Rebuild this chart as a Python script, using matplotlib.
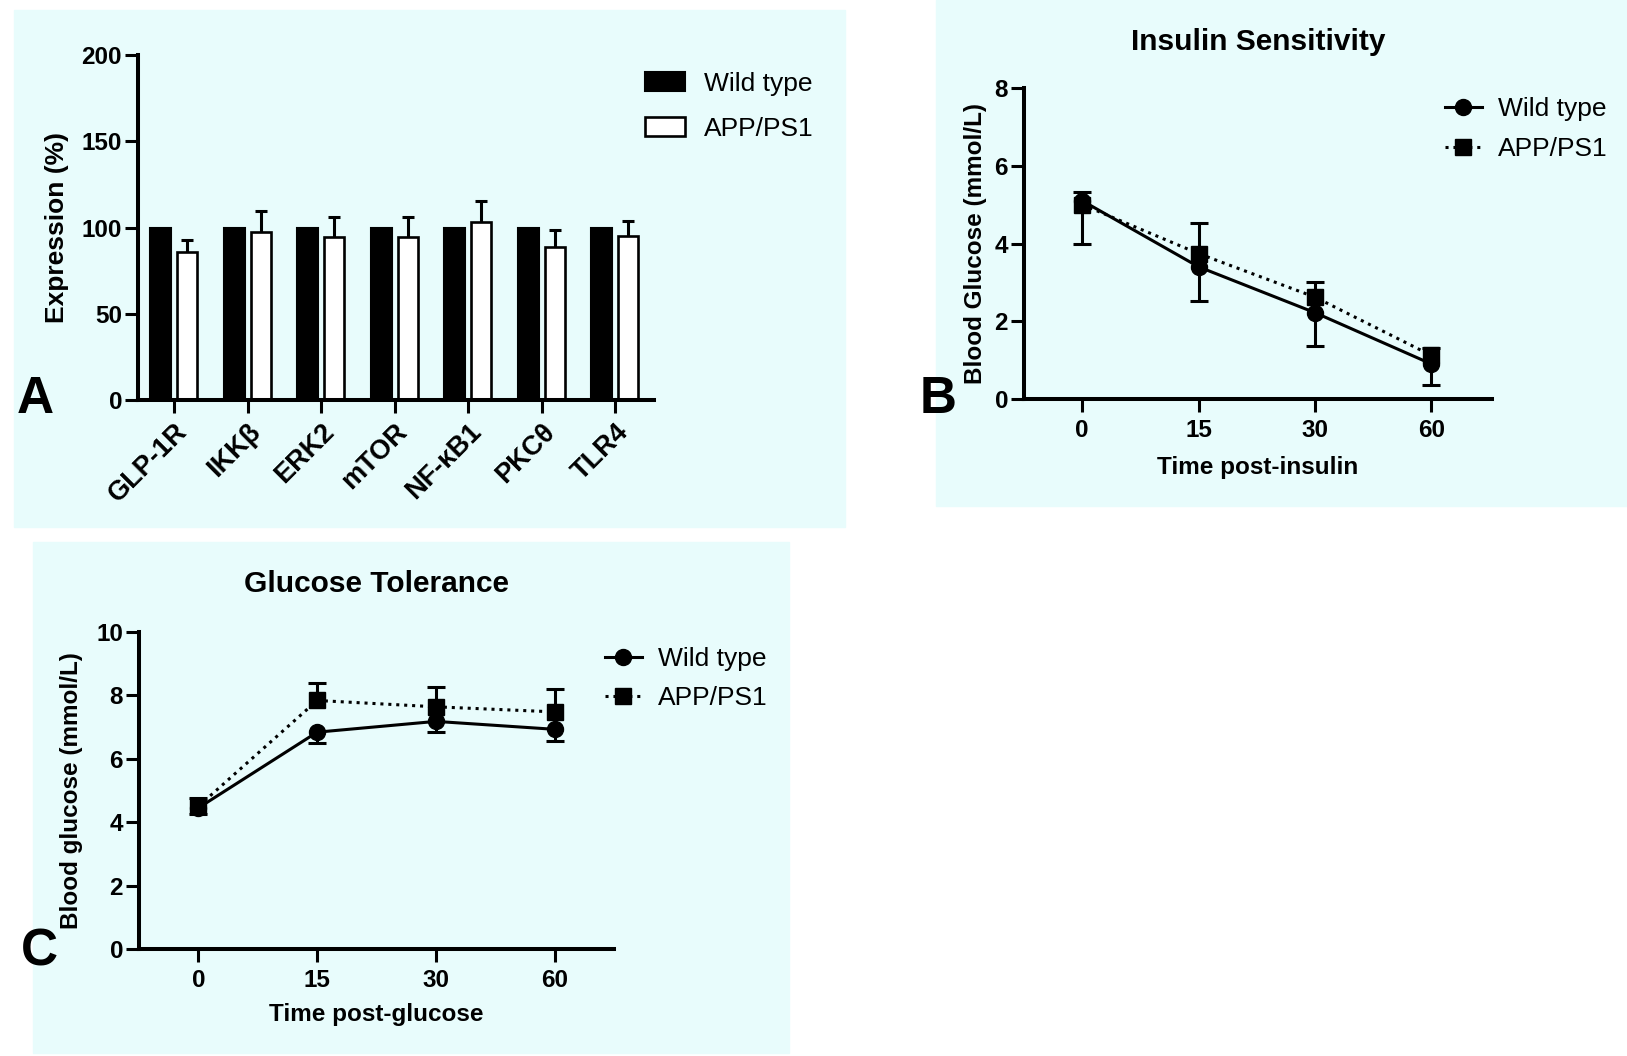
import numpy as np
import matplotlib
matplotlib.use('Agg')
import matplotlib.pyplot as plt
import matplotlib.transforms as mtransforms
from matplotlib.patches import Rectangle

plt.rcParams['font.family'] = ['Liberation Sans', 'DejaVu Sans']
plt.rcParams['font.weight'] = 'bold'
plt.rcParams['axes.labelweight'] = 'bold'
plt.rcParams['axes.titleweight'] = 'bold'

# --- data ---
genes = ['GLP-1R', 'IKKβ', 'ERK2', 'mTOR', 'NF-κB1', 'PKCθ', 'TLR4']
wt_expr = [100, 100, 100, 100, 100, 100, 100]
app_expr = [86, 97.6, 94.8, 94.8, 103, 89, 95]
app_expr_err = [7, 12, 11.6, 11.6, 12.6, 9.8, 9]

time_labels = ['0', '15', '30', '60']

wt_ins = [5.1, 3.4, 2.22, 0.9]
wt_ins_err = [1.12, 0.88, 0.86, 0.53]
app_ins = [5.0, 3.74, 2.62, 1.12]
app_ins_err = [0.33, 0.79, 0.38, 0.2]

wt_glu = [4.45, 6.84, 7.18, 6.93]
wt_glu_err = [0.2, 0.35, 0.35, 0.37]
app_glu = [4.5, 7.84, 7.64, 7.48]
app_glu_err = [0.27, 0.55, 0.63, 0.73]

W, H = 1627, 1056
BG = '#e8fcfc'
fig = plt.figure(figsize=(W / 100, H / 100), dpi=100)


def px_axes(l, t, r, b):
    ax = fig.add_axes([l / W, 1 - b / H, (r - l) / W, (b - t) / H])
    ax.set_facecolor('none')
    return ax


def bg(l, t, r, b):
    fig.patches.append(Rectangle((l / W, 1 - b / H), (r - l) / W, (b - t) / H,
                                 transform=fig.transFigure, color=BG, zorder=-10))


def style(ax):
    for s in ['top', 'right']:
        ax.spines[s].set_visible(False)
    for s in ['left', 'bottom']:
        ax.spines[s].set_linewidth(2.9)
    ax.tick_params(width=2.2, length=9.5, labelsize=17.5, pad=2)


def err_one_side(ax, x, y, e, down, cap=9):
    x = np.asarray(x, float)
    y = np.asarray(y, float)
    e = np.asarray(e, float)
    end = y - e if down else y + e
    ax.vlines(x, y, end, color='black', lw=2.2, zorder=1)
    ax.plot(x, end, linestyle='none', marker='_', markersize=cap * 2 * 0.72,
            mew=2.2, color='black', zorder=1)


def legend(ax, x, y, **kw):
    opts = dict(loc='upper left', bbox_to_anchor=(x / W, 1 - y / H),
                bbox_transform=fig.transFigure, frameon=False, borderpad=0,
                borderaxespad=0, prop={'size': 19, 'weight': 'normal'})
    opts.update(kw)
    return ax.legend(**opts)


bg(14, 10, 845, 527)
bg(936, 0, W, 506)
bg(33, 542, 789, 1053)

# ---------------- A ----------------
axA = px_axes(138, 55.3, 654, 400)
style(axA)
xs = np.arange(len(genes))
axA.bar(xs - 0.18, wt_expr, 0.29, color='black', edgecolor='black', lw=1.5,
        label='Wild type', zorder=2)
axA.bar(xs + 0.18, app_expr, 0.27, color='white', edgecolor='black', lw=1.9,
        label='APP/PS1', zorder=2)
err_one_side(axA, xs + 0.18, app_expr, app_expr_err, down=False, cap=6)
axA.set_xlim(-0.49, 6.53)
axA.set_ylim(0, 200)
axA.set_yticks([0, 50, 100, 150, 200])
axA.set_xticks(xs)
axA.set_xticklabels(genes, rotation=45, ha='right', rotation_mode='anchor',
                    fontsize=19.5)
shift = mtransforms.ScaledTranslation(-12 / 100, 0, fig.dpi_scale_trans)
for lab in axA.get_xticklabels():
    lab.set_transform(lab.get_transform() + shift)
axA.tick_params(axis='x', pad=4)
axA.set_ylabel('Expression (%)', fontsize=19, va='center')
axA.yaxis.set_label_coords((57 - 138) / (654 - 138), 0.5)
legend(axA, 645, 72, handlelength=1.5, handleheight=0.75,
       handletextpad=0.75, labelspacing=0.78)

# ---------------- B ----------------
axB = px_axes(1024, 88, 1492, 399)
style(axB)
tx = np.arange(len(time_labels))
err_one_side(axB, tx, wt_ins, wt_ins_err, down=True)
err_one_side(axB, tx, app_ins, app_ins_err, down=False)
axB.plot(tx, wt_ins, '-o', color='black', lw=2.2, ms=11.5, label='Wild type', zorder=3)
axB.plot(tx, app_ins, linestyle=(0, (1, 1.6)), marker='s', color='black', lw=2.2,
         ms=11, label='APP/PS1', zorder=3)
axB.set_xlim(-0.5, 3.52)
axB.set_ylim(0, 8)
axB.set_yticks([0, 2, 4, 6, 8])
axB.set_xticks(tx)
axB.set_xticklabels(time_labels)
axB.tick_params(axis='x', pad=5)
axB.set_ylabel('Blood Glucose (mmol/L)', fontsize=17.5, va='center')
axB.yaxis.set_label_coords((976 - 1024) / (1492 - 1024), 0.5)
axB.set_xlabel('Time post-insulin', fontsize=17.5, va='center')
axB.xaxis.set_label_coords(0.5, (399 - 467) / (399 - 88))
axB.set_title('Insulin Sensitivity', fontsize=21.5, y=(399 - 42) / (399 - 88),
              va='center', pad=0)
legend(axB, 1445, 97, handlelength=1.4, handletextpad=0.6, labelspacing=0.62)

# ---------------- C ----------------
axC = px_axes(139, 632, 614, 949)
style(axC)
err_one_side(axC, tx, wt_glu, wt_glu_err, down=True)
err_one_side(axC, tx, app_glu, app_glu_err, down=False)
axC.plot(tx, wt_glu, '-o', color='black', lw=2.2, ms=11.5, label='Wild type', zorder=3)
axC.plot(tx, app_glu, linestyle=(0, (1, 1.6)), marker='s', color='black', lw=2.2,
         ms=11, label='APP/PS1', zorder=3)
axC.set_xlim(-0.5, 3.5)
axC.set_ylim(0, 10)
axC.set_yticks([0, 2, 4, 6, 8, 10])
axC.set_xticks(tx)
axC.set_xticklabels(time_labels)
axC.tick_params(axis='x', pad=5)
axC.set_ylabel('Blood glucose (mmol/L)', fontsize=17.5, va='center')
axC.yaxis.set_label_coords((72 - 139) / (614 - 139), 0.5)
axC.set_xlabel('Time post-glucose', fontsize=17.5, va='center')
axC.xaxis.set_label_coords(0.5, (949 - 1015) / (949 - 632))
axC.set_title('Glucose Tolerance', fontsize=21.5, y=(949 - 584) / (949 - 632),
              va='center', pad=0)
legend(axC, 605, 647, handlelength=1.4, handletextpad=0.6, labelspacing=0.58)

# panel letters
for letter, x, y in [('A', 17, 413), ('B', 920, 413), ('C', 21, 965)]:
    fig.text(x / W, 1 - y / H, letter, fontsize=37, fontweight='bold',
             ha='left', va='baseline')

fig.savefig('out.png', dpi=100)
